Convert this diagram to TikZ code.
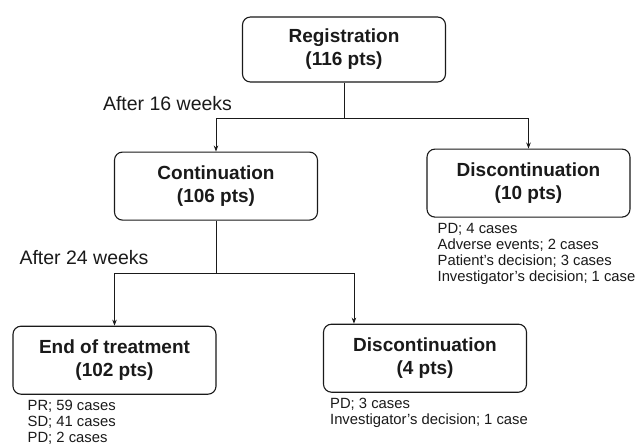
\documentclass[tikz,border=0pt]{standalone}
\usepackage{fontspec}
\setsansfont{Liberation Sans}
\usepackage{xcolor}
\usetikzlibrary{positioning,arrows.meta,calc}
\definecolor{fcInk}{HTML}{1A1A1A}
\definecolor{fcWhite}{HTML}{FFFFFF}
\tikzset{
  fc-box/.style={
    draw=fcInk, line width=1.1pt, rounded corners=8pt,
    fill=fcWhite, font=\fontsize{19}{23}\selectfont\bfseries\sffamily,
    align=center, text=fcInk, minimum width=203pt, minimum height=68pt,
    inner sep=2pt
  },
  fc-line/.style={line width=0.9pt, draw=fcInk},
  fc-flow/.style={fc-line, -{Stealth[length=6pt,width=4.5pt]}},
  fc-note/.style={font=\fontsize{14.8}{16.3}\selectfont\sffamily,
    align=left, text=fcInk, inner sep=0pt, anchor=north west},
  fc-label/.style={font=\fontsize{19.5}{23}\selectfont\sffamily,
    text=fcInk, inner sep=0pt}
}
\begin{document}
\begin{tikzpicture}
\useasboundingbox[fill=fcWhite] (0,0) rectangle (638pt,-444pt);
% Top
\node[fc-box, minimum height=65pt] (reg) at (344pt,-49.5pt)
  {Registration\\(116 pts)};
\node[fc-box, below=69pt of reg, xshift=-128pt] (cont)
  {Continuation\\(106 pts)};
\node[fc-box, below=66pt of reg, xshift=184.5pt] (disc10)
  {Discontinuation\\(10 pts)};
\coordinate (split16) at ($(reg.south)+(0,-36pt)$);
\node[fc-label] (wk16) at ($(reg.south)+(-176.5pt,-21pt)$) {After 16 weeks};
\node[fc-note] (why10) at ($(disc10.south west)+(11pt,-5pt)$)
  {PD; 4 cases\\Adverse events; 2 cases\\Patient's decision; 3 cases\\
  Investigator's decision; 1 case};

% Bottom
\node[fc-box, below=105pt of cont, xshift=-101.5pt] (eot)
  {End of treatment\\(102 pts)};
\node[fc-box, below=103pt of cont, xshift=209pt] (disc4)
  {Discontinuation\\(4 pts)};
\coordinate (split24) at ($(cont.south)+(0,-53pt)$);
\node[fc-label] (wk24) at ($(cont.south)+(-132pt,-37pt)$) {After 24 weeks};
\node[fc-note] (why102) at ($(eot.south west)+(15pt,-5pt)$)
  {PR; 59 cases\\SD; 41 cases\\PD; 2 cases};
\node[fc-note] (why4) at ($(disc4.south west)+(7pt,-5pt)$)
  {PD; 3 cases\\Investigator's decision; 1 case};

\draw[fc-line] (reg.south) -- (split16);
\draw[fc-flow] (split16) -| (cont.north);
\draw[fc-flow] (split16) -| (disc10.north);
\draw[fc-line] (cont.south) -- (split24);
\draw[fc-flow] (split24) -| (eot.north);
\draw[fc-flow] (split24) -| ([xshift=31pt]disc4.north west);
\end{tikzpicture}
\end{document}
